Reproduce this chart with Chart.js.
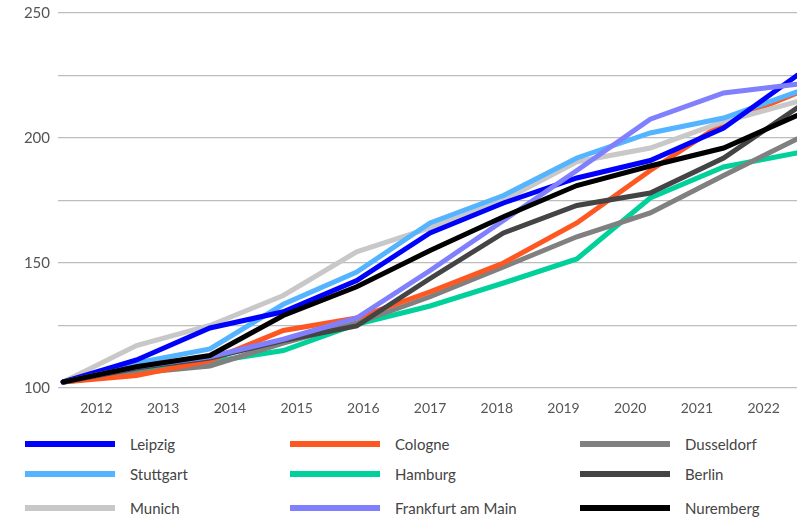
<!DOCTYPE html>
<html>
<head>
<meta charset="utf-8">
<script src="https://cdn.jsdelivr.net/npm/chart.js@4"></script>
<style>
  html, body { margin: 0; padding: 0; background: #fff; }
  #wrap { position: relative; width: 805px; height: 520px; font-family: Lato, "Open Sans", sans-serif; }
  #chartBox { position: absolute; left: 0; top: 0; width: 805px; height: 425px; }
  .lg { position: absolute; display: flex; align-items: center; font-size: 15px; color: #444; white-space: nowrap; }
  .lg span.sw { display: inline-block; width: 90px; height: 6px; margin-right: 15px; }
</style>
</head>
<body>
<div id="wrap">
  <div id="chartBox"><canvas id="c"></canvas></div>
  <div id="legend"></div>
</div>
<script>
const years = ['2012','2013','2014','2015','2016','2017','2018','2019','2020','2021','2022'];
const cities = ['Leipzig','Cologne','Dusseldorf','Stuttgart','Hamburg','Berlin','Munich','Frankfurt am Main','Nuremberg'];
const colors = ['#0000ff','#ff5722','#808080','#55b4ff','#00d09a','#444444','#c8c8c8','#8080ff','#000000'];

const leipzig    = [102.4, 111.2, 124.0, 130.5, 143.0, 162.0, 174.0, 184.0, 191.0, 204.0, 225.0];
const cologne    = [102.4, 105.0, 111.0, 123.0, 128.0, 138.5, 150.0, 166.0, 187.0, 206.0, 218.0];
const dusseldorf = [102.4, 106.0, 108.8, 118.0, 126.0, 136.5, 148.4, 160.5, 170.0, 185.0, 199.6];
const stuttgart  = [102.4, 110.0, 115.6, 133.5, 146.4, 166.0, 177.0, 192.0, 202.0, 208.0, 218.5];
const hamburg    = [102.4, 106.5, 110.4, 115.0, 125.5, 132.8, 142.0, 151.6, 176.0, 188.4, 194.0];
const berlin     = [102.4, 108.0, 112.0, 119.0, 124.8, 143.8, 162.0, 173.0, 178.0, 192.0, 212.0];
const munich     = [102.4, 117.0, 125.0, 137.0, 154.5, 164.0, 175.0, 190.5, 196.0, 206.5, 214.5];
const frankfurt  = [102.4, 108.5, 112.5, 119.5, 128.0, 147.0, 167.0, 187.0, 207.5, 218.0, 221.5];
const nuremberg  = [102.4, 108.5, 113.0, 129.0, 140.5, 155.0, 168.5, 181.0, 188.8, 196.0, 209.0];

const seriesValues = [leipzig, cologne, dusseldorf, stuttgart, hamburg, berlin, munich, frankfurt, nuremberg];
const drawOrder = [4, 2, 1, 5, 6, 3, 0, 7, 8]; // back to front

const yTickLabels = [100, 150, 200, 250];

const datasets = drawOrder.map(k => ({
  label: cities[k],
  data: seriesValues[k].map((v, i) => ({x: i, y: v})),
  borderColor: colors[k],
  backgroundColor: colors[k],
  borderWidth: 5,
  pointRadius: 0,
  tension: 0,
  fill: false,
  borderJoinStyle: 'miter',
  borderCapStyle: 'round',
  order: drawOrder.length - drawOrder.indexOf(k)
}));

const n = years.length;
new Chart(document.getElementById('c'), {
  type: 'line',
  data: { datasets },
  options: {
    responsive: true,
    maintainAspectRatio: false,
    animation: false,
    layout: { padding: { top: 13, right: 8, left: 0, bottom: 0 } },
    plugins: { legend: { display: false }, tooltip: { enabled: false } },
    scales: {
      x: {
        type: 'linear',
        min: -0.07,
        max: n - 1,
        grid: { display: false, drawTicks: false },
        border: { display: false },
        afterBuildTicks: (scale) => {
          scale.ticks = years.map((y, i) => ({ value: (i + 0.5) * (n - 1) / n }));
        },
        afterFit: (scale) => { scale.height = 37; scale.paddingLeft = 0; scale.paddingRight = 0; },
        ticks: {
          autoSkip: false,
          maxRotation: 0,
          padding: 12,
          color: '#555',
          font: { family: 'Lato, "Open Sans", sans-serif', size: 14 },
          callback: (val, idx) => years[idx]
        }
      },
      y: {
        min: 100,
        max: 250,
        afterFit: (scale) => { scale.width = 58; scale.paddingTop = 0; scale.paddingBottom = 0; },
        grid: { color: '#bdbdbd', lineWidth: 1.2, drawTicks: false },
        border: { display: false },
        ticks: {
          stepSize: 25,
          padding: 8,
          color: '#555',
          font: { family: 'Lato, "Open Sans", sans-serif', size: 15 },
          callback: (v) => yTickLabels.includes(v) ? String(v) : ''
        }
      }
    }
  }
});

// HTML legend (3 columns)
const legendCols = [25, 290, 580];
const legendRows = [444, 474, 508];
const lg = document.getElementById('legend');
cities.forEach((name, k) => {
  const col = k % 3, row = Math.floor(k / 3);
  const d = document.createElement('div');
  d.className = 'lg';
  d.style.left = legendCols[col] + 'px';
  d.style.top = (legendRows[row] - 10) + 'px';
  d.style.height = '20px';
  const sw = document.createElement('span');
  sw.className = 'sw';
  sw.style.background = colors[k];
  const t = document.createElement('span');
  t.textContent = name;
  d.appendChild(sw); d.appendChild(t);
  lg.appendChild(d);
});
</script>
</body>
</html>
